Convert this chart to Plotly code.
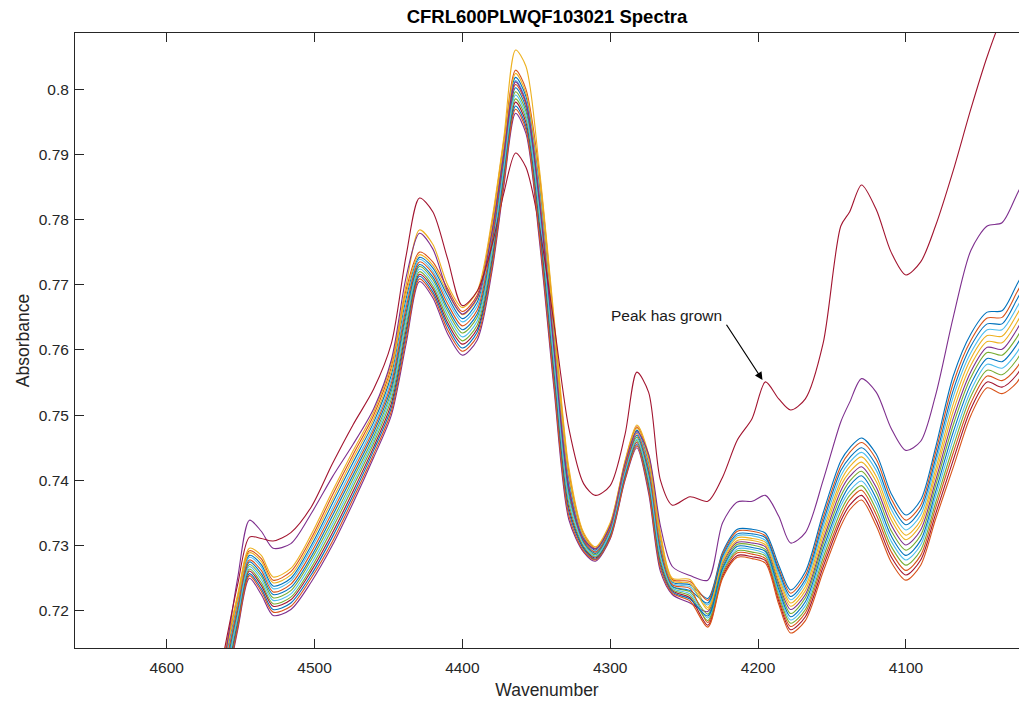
import plotly.graph_objects as go

wavenumber = [4562, 4552, 4544, 4536, 4528, 4516, 4502, 4488, 4474, 4460, 4448, 4438, 4429, 4420,
              4410, 4400, 4390, 4380, 4372, 4364, 4357, 4348, 4338, 4328, 4318, 4310, 4300, 4290,
              4282, 4274, 4266, 4258, 4246, 4234, 4224, 4214, 4204, 4195, 4186, 4178, 4168, 4156,
              4144, 4138, 4130, 4120, 4110, 4100, 4090, 4080, 4068, 4056, 4045, 4035, 4025, 4018]

spec_01 = [.7108, .7212, .7285, .7271, .7238, .7250, .7301, .7364, .7427, .7489, .7562, .7679, .7742, .7726,
           .7683, .7648, .7673, .7782, .7908, .8018, .7989, .7855, .7625, .7402, .7313, .7293, .7329, .7423,
           .7477, .7426, .7306, .7244, .7240, .7219, .7290, .7325, .7325, .7319, .7270, .7232, .7260, .7350,
           .7430, .7450, .7465, .7440, .7380, .7347, .7370, .7450, .7560, .7625, .7658, .7660, .7700, .7730]
spec_02 = [.7119, .7221, .7292, .7280, .7247, .7260, .7312, .7377, .7439, .7500, .7574, .7693, .7750, .7735,
           .7694, .7659, .7684, .7794, .7919, .8029, .8000, .7872, .7642, .7414, .7318, .7296, .7333, .7428,
           .7482, .7435, .7315, .7248, .7245, .7216, .7287, .7322, .7322, .7315, .7265, .7227, .7254, .7343,
           .7422, .7443, .7458, .7432, .7372, .7339, .7362, .7442, .7549, .7615, .7649, .7650, .7688, .7718]
spec_03 = [.7125, .7225, .7296, .7285, .7252, .7265, .7318, .7383, .7445, .7505, .7580, .7700, .7784, .7762,
           .7700, .7665, .7690, .7800, .7925, .8060, .8035, .7880, .7650, .7420, .7320, .7298, .7335, .7430,
           .7485, .7440, .7320, .7250, .7248, .7205, .7278, .7312, .7311, .7305, .7252, .7212, .7237, .7322,
           .7399, .7421, .7436, .7406, .7348, .7316, .7339, .7416, .7517, .7587, .7622, .7621, .7654, .7684]
spec_04 = [.7050, .7170, .7250, .7225, .7193, .7202, .7245, .7300, .7365, .7435, .7500, .7610, .7705, .7680,
           .7625, .7592, .7615, .7720, .7850, .7963, .7932, .7770, .7540, .7340, .7290, .7276, .7310, .7400,
           .7450, .7380, .7260, .7225, .7212, .7199, .7272, .7305, .7304, .7298, .7242, .7202, .7225, .7308,
           .7384, .7406, .7421, .7389, .7332, .7301, .7324, .7399, .7495, .7567, .7604, .7601, .7631, .7661]
spec_05 = [.7085, .7195, .7271, .7253, .7220, .7231, .7279, .7338, .7402, .7467, .7537, .7652, .7728, .7708,
           .7660, .7626, .7650, .7757, .7885, .7996, .7966, .7821, .7591, .7377, .7304, .7286, .7322, .7414,
           .7466, .7408, .7288, .7237, .7229, .7195, .7268, .7302, .7301, .7294, .7238, .7196, .7220, .7302,
           .7376, .7399, .7414, .7381, .7323, .7293, .7316, .7391, .7485, .7558, .7596, .7592, .7619, .7649]
spec_06 = [.7102, .7208, .7282, .7267, .7234, .7246, .7296, .7357, .7420, .7483, .7555, .7672, .7739, .7721,
           .7677, .7643, .7667, .7775, .7902, .8013, .7983, .7846, .7616, .7395, .7311, .7291, .7327, .7421,
           .7474, .7422, .7302, .7242, .7237, .7209, .7281, .7315, .7315, .7308, .7256, .7217, .7243, .7329,
           .7407, .7428, .7443, .7415, .7356, .7324, .7347, .7425, .7528, .7596, .7631, .7631, .7665, .7695]
spec_07 = [.7067, .7183, .7261, .7239, .7207, .7217, .7262, .7319, .7383, .7451, .7518, .7631, .7716, .7694,
           .7642, .7609, .7632, .7738, .7867, .7980, .7949, .7795, .7565, .7358, .7297, .7281, .7316, .7407,
           .7458, .7394, .7274, .7231, .7220, .7178, .7253, .7285, .7283, .7277, .7215, .7171, .7191, .7267,
           .7338, .7362, .7377, .7338, .7283, .7255, .7278, .7348, .7431, .7510, .7551, .7543, .7562, .7592]
spec_08 = [.7090, .7200, .7275, .7257, .7225, .7236, .7284, .7345, .7408, .7473, .7543, .7658, .7731, .7712,
           .7665, .7631, .7655, .7763, .7890, .8002, .7972, .7829, .7599, .7383, .7306, .7288, .7323, .7416,
           .7469, .7412, .7292, .7238, .7231, .7212, .7284, .7318, .7318, .7312, .7261, .7222, .7248, .7336,
           .7415, .7435, .7450, .7423, .7364, .7332, .7355, .7433, .7538, .7606, .7640, .7640, .7677, .7707]
spec_09 = [.7096, .7204, .7278, .7262, .7229, .7241, .7290, .7351, .7414, .7478, .7549, .7665, .7735, .7717,
           .7671, .7637, .7661, .7769, .7896, .8007, .7977, .7838, .7608, .7389, .7308, .7290, .7325, .7418,
           .7472, .7417, .7297, .7240, .7234, .7182, .7256, .7289, .7287, .7280, .7219, .7176, .7197, .7274,
           .7345, .7370, .7385, .7347, .7291, .7262, .7285, .7357, .7442, .7519, .7560, .7553, .7573, .7603]
spec_10 = [.7113, .7217, .7289, .7276, .7243, .7255, .7307, .7370, .7433, .7494, .7568, .7686, .7746, .7730,
           .7688, .7654, .7678, .7788, .7913, .8024, .7994, .7863, .7633, .7408, .7315, .7295, .7331, .7425,
           .7480, .7431, .7311, .7246, .7242, .7202, .7275, .7308, .7308, .7301, .7247, .7207, .7231, .7315,
           .7392, .7413, .7428, .7398, .7340, .7309, .7332, .7408, .7506, .7577, .7613, .7611, .7642, .7672]
spec_11 = [.7105, .7250, .7339, .7322, .7296, .7303, .7350, .7405, .7455, .7510, .7585, .7712, .7779, .7755,
           .7690, .7655, .7680, .7780, .7900, .8011, .7980, .7830, .7600, .7390, .7310, .7295, .7330, .7425,
           .7475, .7440, .7330, .7268, .7254, .7247, .7335, .7367, .7368, .7377, .7345, .7304, .7320, .7400,
           .7490, .7520, .7556, .7535, .7480, .7446, .7460, .7530, .7650, .7753, .7790, .7795, .7838, .7870]
spec_12 = [.7073, .7187, .7264, .7243, .7211, .7221, .7267, .7326, .7390, .7457, .7525, .7638, .7720, .7698,
           .7648, .7614, .7638, .7745, .7873, .7985, .7955, .7804, .7574, .7365, .7299, .7283, .7318, .7409,
           .7461, .7398, .7278, .7233, .7223, .7185, .7259, .7292, .7290, .7284, .7224, .7181, .7202, .7281,
           .7353, .7377, .7392, .7355, .7299, .7270, .7293, .7365, .7452, .7529, .7569, .7562, .7585, .7615]
spec_13 = [.7079, .7191, .7268, .7248, .7216, .7226, .7273, .7332, .7396, .7462, .7531, .7645, .7724, .7703,
           .7654, .7620, .7644, .7751, .7879, .7991, .7960, .7812, .7582, .7371, .7302, .7284, .7320, .7412,
           .7463, .7403, .7283, .7235, .7226, .7189, .7262, .7295, .7294, .7287, .7228, .7186, .7208, .7288,
           .7361, .7384, .7399, .7364, .7307, .7278, .7301, .7374, .7463, .7538, .7578, .7572, .7596, .7626]
spec_14 = [.7128, .7240, .7313, .7311, .7307, .7320, .7360, .7425, .7485, .7540, .7610, .7745, .7833, .7812,
           .7740, .7668, .7690, .7760, .7840, .7902, .7880, .7790, .7640, .7480, .7395, .7377, .7392, .7470,
           .7566, .7535, .7400, .7362, .7375, .7368, .7405, .7462, .7495, .7551, .7525, .7508, .7525, .7610,
           .7790, .7812, .7853, .7815, .7750, .7715, .7735, .7790, .7875, .7970, .8050, .8110, .8150, .8180]
spec_15 = [.7062, .7178, .7257, .7234, .7202, .7212, .7256, .7313, .7377, .7446, .7512, .7624, .7713, .7689,
           .7637, .7603, .7627, .7732, .7862, .7974, .7943, .7787, .7557, .7352, .7295, .7279, .7314, .7405,
           .7455, .7389, .7269, .7229, .7218, .7192, .7265, .7299, .7297, .7291, .7233, .7191, .7214, .7295,
           .7368, .7392, .7407, .7372, .7315, .7285, .7308, .7382, .7474, .7548, .7587, .7582, .7608, .7638]
spec_16 = [.7056, .7174, .7254, .7230, .7198, .7207, .7251, .7306, .7371, .7440, .7506, .7617, .7709, .7685,
           .7631, .7598, .7621, .7726, .7856, .7969, .7938, .7778, .7548, .7346, .7292, .7278, .7312, .7402,
           .7453, .7385, .7265, .7227, .7215, .7175, .7250, .7282, .7280, .7273, .7210, .7166, .7185, .7260,
           .7330, .7355, .7370, .7330, .7275, .7247, .7270, .7340, .7420, .7500, .7542, .7533, .7550, .7580]

spectra = [spec_01, spec_02, spec_03, spec_04, spec_05, spec_06, spec_07, spec_08,
           spec_09, spec_10, spec_11, spec_12, spec_13, spec_14, spec_15, spec_16]

colors = ["#0072BD", "#D95319", "#EDB120", "#7E2F8E", "#77AC30", "#4DBEEE", "#A2142F"]

x_ticks = [4600, 4500, 4400, 4300, 4200, 4100]
y_ticks = [0.72, 0.73, 0.74, 0.75, 0.76, 0.77, 0.78, 0.79, 0.80]
y_tick_text = ["0.72", "0.73", "0.74", "0.75", "0.76", "0.77", "0.78", "0.79", "0.8"]

FONT = "Liberation Sans, Arial, Helvetica, sans-serif"
AX = "#262626"

fig = go.Figure()
for i, s in enumerate(spectra):
    fig.add_trace(go.Scatter(
        x=wavenumber, y=s, mode="lines",
        line=dict(color=colors[i % 7], width=1.1, shape="spline", smoothing=0.8),
        showlegend=False, hoverinfo="skip"))

fig.add_annotation(x=4197, y=0.7554, ax=4222, ay=0.7641, xref="x", yref="y", axref="x", ayref="y",
                   text="", showarrow=True, arrowhead=2, arrowsize=1.3, arrowwidth=1.2,
                   arrowcolor="#000000", standoff=0)
fig.add_annotation(x=4262, y=0.7653, xref="x", yref="y", text="Peak has grown", showarrow=False,
                   font=dict(family=FONT, size=15.5, color="#1a1a1a"), xanchor="center", yanchor="middle")

fig.update_layout(
    width=1019, height=704,
    margin=dict(l=75, r=0, t=33, b=56),
    paper_bgcolor="white", plot_bgcolor="white",
    font=dict(family=FONT, color=AX),
    title=dict(text="<b>CFRL600PLWQF103021 Spectra</b>", x=(75 + 1019) / 2 / 1019, xanchor="center",
               y=1 - 17 / 704, yanchor="middle", yref="container",
               font=dict(family=FONT, size=18.5, color="#000000")),
    xaxis=dict(range=[4662, 4023.5], tickvals=x_ticks, ticks="inside", ticklen=9, tickwidth=1,
               tickcolor=AX, showline=True, linecolor=AX, linewidth=1, mirror="ticks",
               showgrid=False, zeroline=False, tickfont=dict(size=15.5, color=AX), ticklabelstandoff=5,
               title=dict(text="Wavenumber", font=dict(size=17.5, color=AX), standoff=9)),
    yaxis=dict(range=[0.7143, 0.8086], tickvals=y_ticks, ticktext=y_tick_text, ticks="inside",
               ticklen=9, tickwidth=1, tickcolor=AX, showline=True, linecolor=AX, linewidth=1,
               showgrid=False, zeroline=False, tickfont=dict(size=15.5, color=AX), ticklabelstandoff=2,
               title=dict(text="Absorbance", font=dict(size=17.5, color=AX), standoff=4)),
)

fig.write_html("out.html", config={"displayModeBar": False},
               post_script="document.body.style.margin='0';document.body.style.overflow='hidden';")
